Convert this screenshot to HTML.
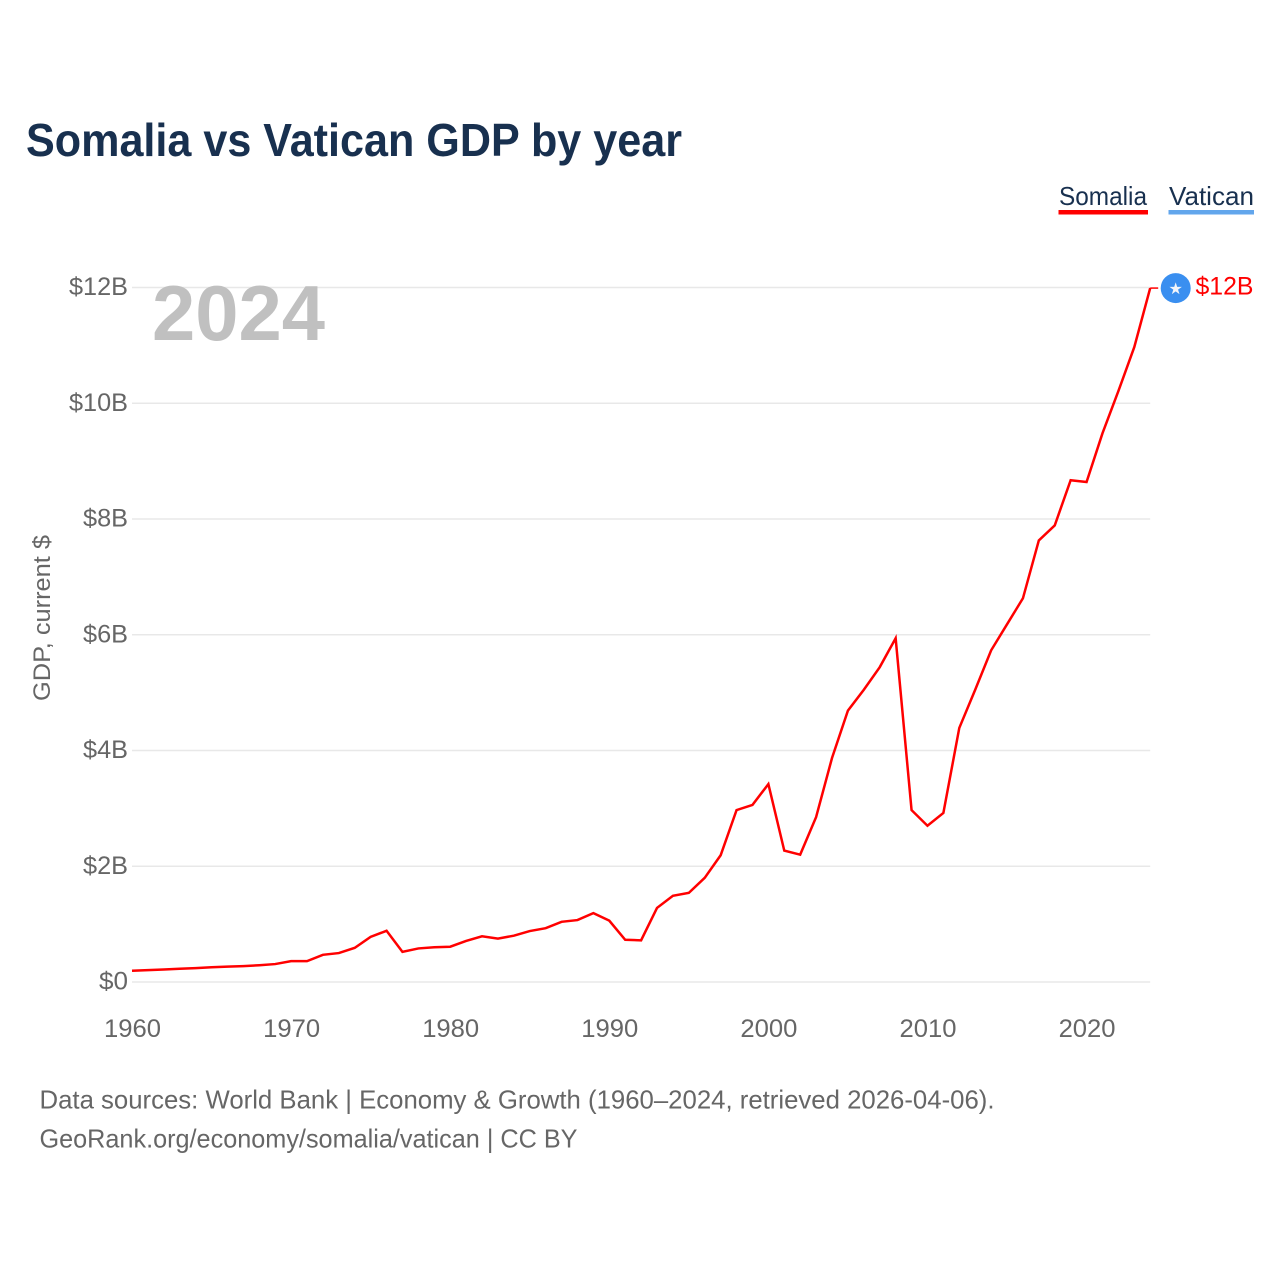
<!DOCTYPE html>
<html lang="en">
<head>
<meta charset="utf-8">
<title>Somalia vs Vatican GDP by year</title>
<style>
html,body{margin:0;padding:0;background:#fff;}
svg{display:block;}
text{font-family:"Liberation Sans",sans-serif;}
</style>
</head>
<body>
<svg id="chart" xmlns="http://www.w3.org/2000/svg" width="1280" height="1280" viewBox="0 0 1280 1280">
  <rect x="0" y="0" width="1280" height="1280" fill="#ffffff"/>
  <text x="26" y="156" font-size="46" font-weight="700" fill="#18304f" textLength="656" lengthAdjust="spacingAndGlyphs">Somalia vs Vatican GDP by year</text>

  <g>
    <text x="1059" y="205" font-size="26" fill="#18304f" textLength="88" lengthAdjust="spacingAndGlyphs">Somalia</text>
    <rect x="1058.5" y="210" width="89.5" height="4.5" fill="#ff0000"/>
  </g>
  <g>
    <text x="1169" y="205" font-size="26" fill="#18304f" textLength="85" lengthAdjust="spacingAndGlyphs">Vatican</text>
    <rect x="1168.5" y="210" width="85.5" height="4.5" fill="#62a6ec"/>
  </g>

  <g id="grid"></g>
  <g id="yticks"></g>
  <g id="xticks"></g>

  <text x="152" y="340" font-size="78" font-weight="700" fill="#c0c0c0" textLength="173" lengthAdjust="spacingAndGlyphs">2024</text>
  <text transform="translate(50,701) rotate(-90)" font-size="24.5" fill="#666666" textLength="166" lengthAdjust="spacingAndGlyphs">GDP, current $</text>

  <g id="series"></g>

  <text x="39.5" y="1108.5" font-size="26" fill="#666666" textLength="955" lengthAdjust="spacingAndGlyphs">Data sources: World Bank | Economy &amp; Growth (1960–2024, retrieved 2026-04-06).</text>
  <text x="39.5" y="1147.5" font-size="26" fill="#666666" textLength="538" lengthAdjust="spacingAndGlyphs">GeoRank.org/economy/somalia/vatican | CC BY</text>
</svg>
<script>
const years = [1960,1961,1962,1963,1964,1965,1966,1967,1968,1969,1970,1971,1972,1973,1974,1975,1976,1977,1978,1979,1980,1981,1982,1983,1984,1985,1986,1987,1988,1989,1990,1991,1992,1993,1994,1995,1996,1997,1998,1999,2000,2001,2002,2003,2004,2005,2006,2007,2008,2009,2010,2011,2012,2013,2014,2015,2016,2017,2018,2019,2020,2021,2022,2023,2024];
const somaliaGdp = [0.195,0.205,0.215,0.23,0.24,0.255,0.265,0.275,0.29,0.31,0.36,0.36,0.47,0.50,0.59,0.78,0.885,0.52,0.58,0.60,0.61,0.71,0.79,0.75,0.80,0.88,0.93,1.04,1.07,1.19,1.06,0.73,0.72,1.28,1.49,1.54,1.80,2.19,2.97,3.06,3.42,2.27,2.20,2.85,3.87,4.69,5.05,5.44,5.94,2.97,2.70,2.92,4.39,5.05,5.73,6.18,6.63,7.63,7.89,8.67,8.64,9.48,10.21,10.97,11.99];
const yTickValues = [0,2,4,6,8,10,12];
const yTickLabels = ["$0","$2B","$4B","$6B","$8B","$10B","$12B"];
const yTickLabelWidths = [29,45,45,45,45,59,59];
const xTickValues = [1960,1970,1980,1990,2000,2010,2020];
const xTickLabels = ["1960","1970","1980","1990","2000","2010","2020"];
const endValueLabel = "$12B";

const NS = "http://www.w3.org/2000/svg";
function xScale(year){ return 132 + (year - 1960) * (1150.2 - 132) / 64; }
function yScale(v){ return 982 - v * (982 - 287.5) / 12; }
function mk(tag, attrs, parent){
  const el = document.createElementNS(NS, tag);
  for (const k in attrs) el.setAttribute(k, attrs[k]);
  parent.appendChild(el);
  return el;
}

const grid = document.getElementById('grid');
const yticks = document.getElementById('yticks');
const xticks = document.getElementById('xticks');
const series = document.getElementById('series');

yTickValues.forEach(function(v, i){
  const line = mk('line', {x1:132, x2:1150.2, y1:yScale(v), y2:yScale(v), stroke:'#e8e8e8', 'stroke-width':1.5}, grid);
  
  
  const t = mk('text', {x:128 - yTickLabelWidths[i], y:yScale(v) + 7.5, 'font-size':25, fill:'#666666', textLength:yTickLabelWidths[i], lengthAdjust:'spacingAndGlyphs'}, yticks);
  
  
  t.textContent = yTickLabels[i];
});

xTickValues.forEach(function(y, i){
  const t = mk('text', {x:xScale(y) - 28, y:1037, 'font-size':25, fill:'#666666', textLength:57, lengthAdjust:'spacingAndGlyphs'}, xticks);
  
  
  t.textContent = xTickLabels[i];
});

const pts = years.map(function(y, i){ return xScale(y).toFixed(2) + ',' + yScale(somaliaGdp[i]).toFixed(2); }).join(' ');
const lastValue = somaliaGdp[somaliaGdp.length - 1];
const lastYear = years[years.length - 1];
const path = mk('polyline', {points:pts, fill:'none', stroke:'#ff0000', 'stroke-width':2.5, 'stroke-linejoin':'miter'}, series);



const connector = mk('line', {x1:xScale(lastYear), x2:xScale(lastYear) + 8, y1:yScale(lastValue), y2:yScale(lastValue), stroke:'#ff0000', 'stroke-width':1.5}, series);



const markerX = xScale(lastYear) + 25.5;
const markerY = yScale(lastValue);
const marker = mk('circle', {cx:markerX, cy:markerY, r:15, fill:'#3a8ff0'}, series);



const star = mk('text', {x:markerX, y:markerY + 6, 'text-anchor':'middle', 'font-size':16, fill:'#f2f5fa'}, series);


star.style.fontFamily = '"DejaVu Sans",sans-serif';
star.textContent = '★';

const endLabel = mk('text', {x:1195.5, y:markerY + 6.5, 'font-size':25, fill:'#ff0000', textLength:58, lengthAdjust:'spacingAndGlyphs'}, series);


endLabel.textContent = endValueLabel;
</script>
</body>
</html>
